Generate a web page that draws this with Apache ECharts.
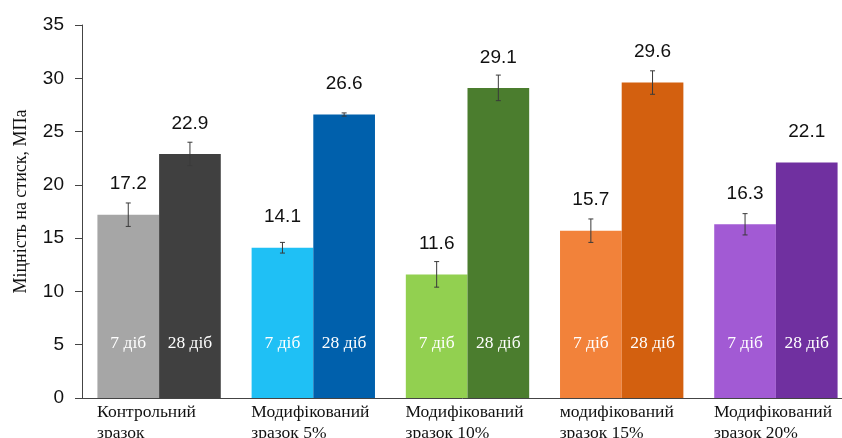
<!DOCTYPE html>
<html>
<head>
<meta charset="utf-8">
<script src="https://cdn.jsdelivr.net/npm/echarts@6/dist/echarts.min.js"></script>
<style>html,body{margin:0;padding:0;background:#fff;}#c{width:842px;height:438px;}</style>
</head>
<body>
<div id="c"></div>
<script>
var categories = [
  ['Контрольний', 'зразок'],
  ['Модифікований', 'зразок 5%'],
  ['Модифікований', 'зразок 10%'],
  ['модифікований', 'зразок 15%'],
  ['Модифікований', 'зразок 20%']
];
var values7 = [17.2, 14.1, 11.6, 15.7, 16.3];
var values28 = [22.9, 26.6, 29.1, 29.6, 22.1];
var err7 = [1.1, 0.5, 1.2, 1.1, 1.0];
var err28 = [1.1, 0.15, 1.2, 1.1, 0];
var colors7 = ['#a6a6a6', '#1fc0f5', '#92d050', '#f2823a', '#a25ad4'];
var colors28 = ['#404040', '#0060ac', '#4b7d2e', '#d3600f', '#7030a0'];
var seriesNames = ['7 діб', '28 діб'];
var yTicks = [0, 5, 10, 15, 20, 25, 30, 35];
var yName = 'Міцність на стиск, МПа';

var chart = echarts.init(document.getElementById('c'));

function barData(vals, cols) {
  return vals.map(function (v, i) { return { value: v, itemStyle: { color: cols[i] } }; });
}
function errItems(vals, errs) {
  return vals.map(function (v, i) { return [i, v, errs[i]]; });
}
function errRender(sign, name) {
  return function (params, api) {
    var i = api.value(0), v = api.value(1), e = api.value(2);
    var band = api.size([1, 0])[0];
    var c = api.coord([i, v]);
    var x = c[0] + sign * band * 0.2;
    var base = api.coord([i, 0])[1];
    var children = [{
      type: 'text',
      style: { text: name, x: x, y: base - 55, align: 'center', verticalAlign: 'middle',
        fill: '#fff', fontFamily: 'Liberation Serif', fontSize: 17.5 }
    }];
    if (e) {
      var top = api.coord([i, v + e])[1];
      var bot = api.coord([i, v - e])[1];
      var cap = 2.5;
      var st = { stroke: '#3a3a3a', lineWidth: 1 };
      children.push(
        { type: 'line', shape: { x1: x, y1: top, x2: x, y2: bot }, style: st },
        { type: 'line', shape: { x1: x - cap, y1: top, x2: x + cap, y2: top }, style: st },
        { type: 'line', shape: { x1: x - cap, y1: bot, x2: x + cap, y2: bot }, style: st }
      );
    }
    return { type: 'group', children: children };
  };
}
var topLabel = {
  show: true, position: 'top', distance: 21,
  fontFamily: 'Liberation Sans', fontSize: 19, color: '#111',
  formatter: function (p) { return p.value.toFixed(1); }
};

chart.setOption({
  animation: false,
  grid: { left: 82, top: 25, height: 373, width: 771, outerBoundsMode: 'none', containLabel: false },
  xAxis: {
    type: 'category',
    data: categories.map(function (c) { return c.join('\n'); }),
    axisLine: { lineStyle: { color: '#444', width: 1 } },
    axisTick: { alignWithLabel: true, length: 5, lineStyle: { color: '#444' } },
    axisLabel: {
      interval: 0, margin: 4, color: '#111', fontFamily: 'Liberation Serif', fontSize: 17.5,
      formatter: function (v) {
        return v.split('\n').map(function (s) { return '{t|' + s + '}'; }).join('\n');
      },
      rich: { t: { width: 124, align: 'left', fontFamily: 'Liberation Serif', fontSize: 17.5, lineHeight: 21, color: '#111' } }
    }
  },
  yAxis: {
    type: 'value', min: 0, max: 35, interval: 5,
    name: yName, nameLocation: 'middle', nameGap: 52,
    nameTextStyle: { fontFamily: 'Liberation Serif', fontSize: 18, color: '#111', padding: [0, 0, 0, 20] },
    axisLine: { show: true, lineStyle: { color: '#444' } },
    axisTick: { show: true, inside: false, length: 7, lineStyle: { color: '#444' } },
    axisLabel: { margin: 18, fontFamily: 'Liberation Sans', fontSize: 19, color: '#111',
      formatter: function (v) { return yTicks.indexOf(v) >= 0 ? String(v) : ''; } },
    splitLine: { show: false }
  },
  series: [
    { type: 'bar', name: seriesNames[0], data: barData(values7, colors7), barWidth: '40%', barGap: '0%',
      label: topLabel, z: 2 },
    { type: 'bar', name: seriesNames[1], data: barData(values28, colors28), barWidth: '40%', barGap: '0%',
      label: topLabel, z: 2 },
    { type: 'custom', renderItem: errRender(-1, seriesNames[0]), data: errItems(values7, err7), z: 5 },
    { type: 'custom', renderItem: errRender(1, seriesNames[1]), data: errItems(values28, err28), z: 5 }
  ]
});
</script>
</body>
</html>
